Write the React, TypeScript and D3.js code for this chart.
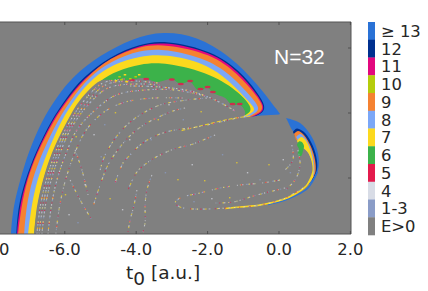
import React from "react";
import * as d3 from "d3";

type P = [number, number];
const W = 428, H = 291;
const FONT = "'DejaVu Sans', sans-serif";
const TEXT = "#262626";

const xTicks = [-8, -6, -4, -2, 0, 2];
const yTicks = [0.56, 1.21, 1.86];
const cbLabels = ["≥ 13", "12", "11", "10", "9", "8", "7", "6", "5", "4", "1-3", "E>0"];
const cbColors = ["#2a72d6", "#00308f", "#e2087e", "#b5cc0c", "#f58231", "#7ba7f7", "#fcd91e", "#3cb24a", "#e31b4c", "#d8dce6", "#8a9cc7", "#808080"];
const [c13, c12, c11, c10, c9, c8, c7, c6, c5, c4, c1, cBg] = cbColors;

// main arch: band boundaries (t0, E)
const bandOuter: P[] = [[-7.51,0],[-7.45,.27],[-7.25,.54],[-7.03,.81],[-6.64,1.14],[-6.22,1.37],[-5.80,1.57],[-5.01,1.79],[-4.09,1.96],[-3.25,2.03],[-2.30,1.98],[-1.37,1.78],[-.62,1.51],[.03,1.20]];
const band12: P[] = [[-7.36,0],[-7.31,.27],[-7.11,.54],[-6.83,.81],[-6.38,1.14],[-5.94,1.37],[-5.52,1.56],[-4.73,1.78],[-3.89,1.90],[-3.19,1.94],[-1.85,1.83],[-1.09,1.63],[-.59,1.41],[-.36,1.27],[-.48,1.20],[-.81,1.16]];
const band11: P[] = [[-7.34,0],[-7.27,.27],[-7.08,.54],[-6.80,.81],[-6.36,1.135],[-5.91,1.36],[-5.49,1.55],[-4.70,1.77],[-3.89,1.89],[-3.19,1.925],[-1.88,1.82],[-1.12,1.62],[-.62,1.40],[-.39,1.27],[-.50,1.205],[-.84,1.16]];
const band9: P[] = [[-7.31,0],[-7.22,.27],[-7.06,.54],[-6.78,.81],[-6.31,1.14],[-5.87,1.37],[-5.40,1.56],[-4.76,1.76],[-3.89,1.88],[-3.19,1.90],[-1.90,1.805],[-1.15,1.60],[-.64,1.39],[-.42,1.27],[-.53,1.21],[-.87,1.16]];
const band8: P[] = [[-7.14,0],[-7.08,.27],[-6.92,.54],[-6.64,.81],[-6.20,1.14],[-5.77,1.37],[-5.32,1.57],[-4.70,1.73],[-3.89,1.84],[-3.19,1.855],[-1.99,1.75],[-1.26,1.565],[-.78,1.37],[-.53,1.26],[-.64,1.21],[-.95,1.16]];
const band7: P[] = [[-7.03,0],[-6.94,.27],[-6.78,.54],[-6.50,.81],[-6.10,1.14],[-5.68,1.37],[-5.21,1.56],[-4.65,1.70],[-3.89,1.78],[-3.19,1.80],[-2.07,1.71],[-1.37,1.525],[-.92,1.35],[-.64,1.25],[-.76,1.21],[-1.04,1.16]];
const band6: P[] = [[-6.86,0],[-6.78,.27],[-6.61,.54],[-6.36,.81],[-5.96,1.11],[-5.57,1.34],[-5.01,1.54],[-4.54,1.63],[-3.89,1.70],[-3.19,1.72],[-1.85,1.60],[-1.09,1.41],[-.76,1.27],[-.81,1.21],[-1.09,1.16]];
const innerGrey: P[] = [[-6.86,0],[-6.78,.27],[-6.61,.54],[-6.36,.81],[-5.96,1.11],[-5.57,1.34],[-5.01,1.53],[-4.65,1.54],[-4.17,1.54],[-3.81,1.56],[-3.42,1.52],[-3.00,1.55],[-2.77,1.50],[-2.49,1.52],[-2.27,1.44],[-1.99,1.46],[-1.85,1.41],[-1.51,1.36],[-1.32,1.29],[-1.09,1.29],[-.95,1.22],[-1.00,1.16],[-4.45,0]];
const coverGrey: P[] = [[.03,1.195],[-.48,1.185],[-.87,1.17],[-1.09,1.155],[-2.21,1.07],[-5.01,.34],[-5.57,0],[.03,0]];
const archClose: P = [-5.01, 0];

// right lobe
const lobe13: P[] = [[.20,1.16],[.59,1.11],[.92,.97],[1.09,.81],[1.11,.67],[1.01,.56],[.84,.50],[.97,.64],[.86,.84],[.59,.98],[.39,1.03],[.28,1.10]];
const lobe12: P[] = [[.39,1.02],[.50,1.055],[.73,1.01],[.95,.88],[1.06,.74],[1.06,.64],[.92,.54],[.97,.64],[.85,.82],[.59,.96],[.45,.98]];
const lobe9: P[] = [[.42,1.0],[.53,1.03],[.70,.99],[.90,.87],[1.01,.74],[1.02,.62],[.87,.52],[.96,.64],[.84,.82],[.56,.93],[.48,.94]];
const lobe8: P[] = [[.48,.97],[.59,1.0],[.73,.96],[.90,.84],[.98,.71],[.98,.60],[.84,.51],[.96,.64],[.84,.80],[.56,.91]];
const lobe7: P[] = [[.50,.93],[.62,.97],[.76,.93],[.90,.81],[.97,.67],[.95,.58],[.76,.48],[.94,.64],[.82,.81],[.59,.88]];
const lobe6: P[] = [[.50,.89],[.56,.925],[.64,.92],[.70,.88],[.67,.83],[.62,.78],[.53,.79],[.56,.85]];

// bright lines
const lineYellow: P[] = [[.95,.58],[.76,.48],[.45,.40],[.11,.345],[-.53,.29],[-1.09,.27],[-1.51,.255]];
const lineBlue: P[] = [[1.08,.62],[.81,.46],[.45,.38],[.11,.33],[-.31,.295]];
const lineArch: P[] = [[-.81,1.18],[-1.37,1.15],[-2.21,1.08],[-2.77,1.03]];

// speckled tracks
const edge1: P[] = [[-6.78,0],[-6.69,.27],[-6.52,.54],[-6.27,.81],[-5.99,1.04],[-5.49,1.32],[-4.93,1.51],[-4.31,1.55]];
const edge2: P[] = [[-6.64,0],[-6.55,.27],[-6.38,.54],[-6.13,.81],[-5.85,1.04],[-5.35,1.29],[-4.79,1.46],[-4.03,1.50],[-3.33,1.49]];
const edge3: P[] = [[-6.47,0],[-6.38,.27],[-6.22,.54],[-5.96,.81],[-5.66,1.04],[-5.15,1.24],[-4.56,1.39],[-3.75,1.44],[-2.91,1.44],[-2.07,1.38]];
const edge4: P[] = [[-6.72,0],[-6.62,.27],[-6.45,.54],[-6.20,.81],[-5.92,1.04],[-5.42,1.30],[-4.86,1.49],[-4.17,1.53],[-3.4,1.51]];
const edge5: P[] = [[-6.25,0],[-6.15,.27],[-5.98,.54],[-5.72,.81],[-5.40,1.04],[-4.9,1.22],[-4.3,1.32],[-3.5,1.36],[-2.7,1.36]];
const under: P[] = [[-4.17,1.48],[-3.33,1.47],[-2.49,1.43],[-1.79,1.34],[-1.23,1.23]];
const inner1: P[] = [[-.95,1.18],[-1.65,1.12],[-2.30,1.07],[-3.05,1.03],[-3.53,.97],[-3.89,.89],[-4.17,.79],[-4.37,.71],[-4.59,.51]];
const inner2: P[] = [[-1.79,.99],[-2.49,.89],[-2.86,.86],[-3.33,.79],[-3.70,.71],[-3.98,.62],[-4.23,.44]];
const inner3: P[] = [[-2.02,1.36],[-2.58,1.34],[-3.33,1.29],[-3.98,1.17],[-4.45,1.02],[-4.87,.79],[-5.01,.64]];
const inner4: P[] = [[-2.63,1.26],[-2.97,1.23],[-3.70,1.11],[-4.09,1.01],[-4.45,.87],[-4.79,.69],[-5.01,.49],[-5.24,.24]];
const inner5: P[] = [[-3.56,.59],[-3.70,.44],[-3.75,.29],[-3.75,.12],[-3.81,.02]];
const inner6: P[] = [[-3.98,.44],[-4.06,.29],[-4.17,.14],[-4.23,.02]];
const inner7: P[] = [[-5.85,.54],[-5.57,.34],[-5.24,.14]];
const inner8: P[] = [[-5.71,.84],[-5.52,.64],[-5.35,.39]];
const lower1: P[] = [[.67,.46],[.11,.35],[-.53,.29],[-1.46,.26],[-2.41,.25],[-2.77,.27],[-2.91,.31],[-2.77,.36],[-2.21,.41],[-1.65,.46],[-1.09,.49],[-.48,.51],[.03,.54]];
const lower2: P[] = [[.17,.46],[-.62,.39],[-1.29,.32],[-1.79,.31]];
const lobeIn1: P[] = [[.53,.84],[.59,.69],[.45,.54],[.17,.44]];
const lobeIn2: P[] = [[.36,.89],[.39,.74],[.17,.64]];
const denseTracks = [edge1, edge4, edge2, edge3, under];
const sparseTracks = [edge5, inner1, inner2, inner3, inner4, inner5, inner6, inner7, inner8, lower1, lower2, lobeIn1, lobeIn2];

const redPatches: P[] = [[-3.0,1.545],[-3.72,1.55],[-2.49,1.53],[-2.2,1.45],[-2.0,1.47],[-1.1,1.30],[-1.3,1.30],[-4.12,1.54],[-2.75,1.5],[-1.85,1.42]];
const greenSpeck: P[] = [[-4.5,1.58],[-4.35,1.6],[-4.2,1.56],[-4.6,1.54],[-4.05,1.58],[-4.3,1.53],[-4.45,1.55],[-3.95,1.6]];
const paleDots: P[] = [[-5.7,.98],[-5.2,1.0],[-4.9,1.1],[-4.6,1.22],[-4.2,.95],[-3.6,.95],[-3.4,1.15],[-3.1,1.3],[-2.7,1.15],[-2.2,1.23],[-5.45,.5],[-5.0,.78],[-4.75,.36],[-4.4,.25],[-3.2,.62],[-2.85,.55],[-2.45,.7],[-1.6,.8],[-1.2,.72],[-.9,.62],[-.55,.55],[-.3,.7],[.1,.75],[.3,.62],[-1.4,.37],[-1.9,.36],[-2.4,.33],[-2.1,.54],[-5.9,.2],[-5.65,.12],[-6.0,.4]];

const x = d3.scaleLinear().domain([-7.815, 2.017]).range([0, 351]);
const y = d3.scaleLinear().domain([0, 2.12]).range([234, 22]);
const smooth = d3.line<P>().x(d => x(d[0])).y(d => y(d[1])).curve(d3.curveCatmullRom.alpha(0.5));
const soft = d3.line<P>().x(d => x(d[0])).y(d => y(d[1])).curve(d3.curveBasis);
const straight = d3.line<P>().x(d => x(d[0])).y(d => y(d[1]));
const arch = (pts: P[]) => `${soft(pts)}L${x(archClose[0])},${y(archClose[1])}Z`;
const closed = (pts: P[]) => `${smooth(pts)}Z`;

const archBands: [P[], string][] = [[bandOuter, c13], [band12, c12], [band11, c11], [band9, c9], [band8, c8], [band7, c7], [band6, c6]];
const lobes: [P[], string][] = [[lobe13, c13], [lobe12, c12], [lobe9, c9], [lobe8, c8], [lobe7, c7], [lobe6, c6]];
const denseLayers = [
  { c: c4, d: "1.3 2 2 3.5 1 1.5 1.5 4.5", o: 0 },
  { c: c1, d: "1.5 4.3 1 2.5 2 6", o: 1.5 },
  { c: c5, d: "1.2 7 1 4 1.5 11", o: 3 },
  { c: c7, d: "1 9 1.5 5 1 13", o: 5 },
];
const sparseLayers = [
  { c: c4, d: "1.5 5 1 3 2 8 1 4", o: 0 },
  { c: c7, d: "2 7 1 4 1.5 10", o: 2 },
  { c: c1, d: "2 6 1.5 11 1 5", o: 4 },
  { c: c5, d: "1 13 1.5 9", o: 7 },
];

const cbBand = d3.scaleBand<string>().domain(cbLabels).range([22, 235]);

export default function App() {
  return (
    <svg width={W} height={H} viewBox={`0 0 ${W} ${H}`} style={{ position: "absolute", left: 0, top: 0, background: "#fff" }} fontFamily={FONT}>
      <defs>
        <clipPath id="plot"><rect x={0} y={22} width={351} height={212} /></clipPath>
      </defs>
      <g clipPath="url(#plot)">
        <rect x={0} y={22} width={351} height={212} fill={cBg} />
        {archBands.map(([pts, c], i) => <path key={i} d={arch(pts)} fill={c} />)}
        <path d={closed(innerGrey)} fill={cBg} />
        <path d={straight(coverGrey) + "Z"} fill={cBg} />
        {lobes.map(([pts, c], i) => <path key={i} d={closed(pts)} fill={c} />)}
        <path d={smooth(lineBlue)!} fill="none" stroke={c13} strokeWidth={1.3} />
        <path d={smooth(lineYellow)!} fill="none" stroke={c7} strokeWidth={1.5} />
        <path d={smooth(lineArch)!} fill="none" stroke={c7} strokeWidth={0.9} strokeDasharray="4 2" />
        {denseTracks.map((t, i) => denseLayers.map((l, j) => (
          <path key={`d${i}${j}`} d={smooth(t)!} fill="none" stroke={l.c} strokeWidth={1.1} strokeOpacity={0.75} strokeDasharray={l.d} strokeDashoffset={l.o} />
        )))}
        {sparseTracks.map((t, i) => sparseLayers.map((l, j) => (
          <path key={`s${i}${j}`} d={smooth(t)!} fill="none" stroke={l.c} strokeWidth={1.1} strokeOpacity={0.7} strokeDasharray={l.d} strokeDashoffset={l.o} />
        )))}
        {redPatches.map((p, i) => <ellipse key={i} cx={x(p[0])} cy={y(p[1])} rx={3} ry={1.2} fill={c5} opacity={0.85} />)}
        {greenSpeck.map((p, i) => <rect key={i} x={x(p[0])} y={y(p[1])} width={2.5} height={1.5} fill={i % 2 ? c7 : c10} />)}
        {paleDots.map((p, i) => <rect key={i} x={x(p[0])} y={y(p[1])} width={1.4} height={1.4} fill={i % 3 === 0 ? c7 : i % 3 === 1 ? c4 : c1} opacity={0.7} />)}
      </g>

      {/* frame and ticks */}
      <path d="M0,22H351V234H0" fill="none" stroke="#555" strokeWidth={1} />
      {xTicks.slice(1).map(t => (
        <g key={t} stroke="#444" strokeWidth={0.8}>
          <line x1={x(t)} x2={x(t)} y1={22} y2={25} />
          <line x1={x(t)} x2={x(t)} y1={234} y2={231} />
        </g>
      ))}
      {yTicks.map(t => <line key={t} x1={351} x2={348} y1={y(t)} y2={y(t)} stroke="#444" strokeWidth={0.8} />)}
      {xTicks.map(t => (
        <text key={t} x={x(t)} y={255} textAnchor="middle" fontSize={16.4} fill={TEXT}>{t.toFixed(1)}</text>
      ))}
      <text x={126} y={279} fontSize={18.5} fill={TEXT}>t<tspan dy={6} fontSize={18.5}>0</tspan><tspan dy={-6}> [a.u.]</tspan></text>

      <text x={274} y={64} fontFamily="'Liberation Sans', sans-serif" fontSize={21} fill="#fff">N=32</text>

      {/* colour bar */}
      {cbLabels.map((l, i) => (
        <g key={l}>
          <rect x={368} y={cbBand(l)!} width={7} height={cbBand.bandwidth() + 0.3} fill={cbColors[i]} />
          <text x={381} y={cbBand(l)! + cbBand.bandwidth() / 2 + 6} fontSize={16.4} fill={TEXT}>{l}</text>
        </g>
      ))}
    </svg>
  );
}
